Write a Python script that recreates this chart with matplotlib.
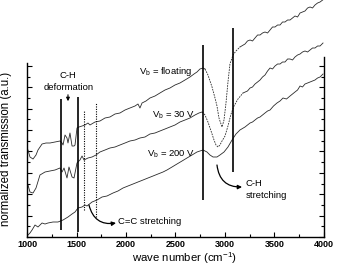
import matplotlib
matplotlib.use("Agg")
import matplotlib.pyplot as plt
import numpy as np

plt.rcParams['font.family'] = ['Liberation Sans', 'DejaVu Sans']
plt.rcParams['mathtext.default'] = 'regular'

# ---- data (wave number in cm^-1, transmission in a.u.) ----
wn_float = [1010, 1030, 1061, 1091, 1111, 1152, 1192, 1232, 1283, 1333, 1354, 1364, 1384, 1404, 1414,
            1434, 1455, 1475, 1485, 1505, 1525, 1556, 1586, 1616, 1636, 1687, 1737, 1788, 1838, 1889,
            1939, 1990, 2040, 2091, 2121, 2141, 2162, 2202, 2242, 2293, 2343, 2394, 2444, 2495, 2545,
            2596, 2646, 2687, 2717, 2747, 2778, 2798]
t_float = [87, 80, 78, 82, 87, 93, 94, 94, 95, 96, 94, 92, 102, 99, 94,
           104, 91, 91, 92, 109, 110, 111, 112, 114, 112, 115, 116, 119, 120, 123,
           124, 127, 129, 131, 133, 129, 134, 136, 139, 141, 144, 147, 149, 152, 154,
           157, 160, 163, 165, 168, 169, 168]
wn_float_dip = [2798, 2828, 2869, 2899, 2919, 2939, 2970, 2990, 3010, 3030, 3050, 3081, 3111, 3151]
t_float_dip = [168, 162, 150, 139, 131, 119, 110, 117, 134, 155, 173, 182, 186, 190]
wn_float_hi = [3151, 3202, 3227, 3253, 3278, 3303, 3329, 3354, 3379, 3404, 3430, 3455, 3480, 3505,
               3531, 3556, 3581, 3606, 3632, 3657, 3682, 3707, 3733, 3758, 3783, 3808, 3834, 3859,
               3884, 3909, 3935, 3960, 4000]
t_float_hi = [190, 193, 196, 197, 196, 199, 202, 202, 204, 205, 204, 207, 210, 210,
              212, 212, 215, 215, 217, 217, 219, 221, 220, 224, 225, 226, 229, 230,
              229, 232, 234, 235, 238]

wn_30 = [1010, 1030, 1061, 1091, 1131, 1182, 1232, 1283, 1333, 1354, 1374, 1404, 1424, 1455, 1475,
         1505, 1535, 1556, 1576, 1616, 1657, 1697, 1737, 1788, 1838, 1889, 1939, 1990, 2040, 2091,
         2141, 2192, 2242, 2293, 2343, 2394, 2444, 2495, 2545, 2596, 2646, 2697, 2737, 2768]
t_30 = [52, 45, 44, 49, 62, 65, 66, 67, 69, 65, 69, 59, 70, 60, 59,
        74, 77, 81, 77, 79, 80, 82, 85, 87, 89, 90, 92, 94, 96, 97,
        99, 100, 103, 104, 106, 108, 110, 112, 115, 117, 119, 122, 124, 125]
wn_30_dip = [2768, 2798, 2828, 2859, 2889, 2909, 2929, 2949, 2970, 3000, 3030, 3061, 3091, 3131, 3182]
t_30_dip = [125, 122, 115, 106, 97, 92, 90, 92, 96, 101, 111, 123, 131, 138, 144]
wn_30_hi = [3182, 3227, 3253, 3278, 3303, 3329, 3354, 3379, 3404, 3430, 3455, 3480, 3505, 3531,
            3556, 3581, 3606, 3632, 3657, 3682, 3707, 3733, 3758, 3783, 3808, 3834, 3859, 3884,
            3909, 3935, 3960, 3990]
t_30_hi = [144, 146, 149, 150, 153, 155, 157, 160, 162, 166, 169, 168, 171, 173,
           173, 175, 175, 178, 178, 177, 180, 182, 183, 185, 186, 185, 187, 189,
           189, 191, 191, 194]

wn_200 = [1010, 1030, 1051, 1081, 1111, 1152, 1182, 1212, 1263, 1313, 1364, 1414, 1455, 1485,
          1515, 1556, 1586, 1606, 1657, 1707, 1758, 1808, 1869, 1919, 1970, 2020, 2071, 2121,
          2172, 2222, 2273, 2323, 2374, 2414, 2465, 2515, 2566, 2616, 2667, 2717, 2747, 2778,
          2818, 2848, 2879, 2919, 2949, 2990, 3030, 3071, 3111, 3151, 3202, 3253, 3278, 3303,
          3329, 3354, 3379, 3404, 3430, 3455, 3490, 3525, 3556, 3586, 3621, 3657, 3682, 3707,
          3733, 3758, 3783, 3808, 3834, 3859, 3884, 3909, 3935, 3960, 3990]
t_200 = [2, 4, 7, 12, 10, 14, 13, 14, 15, 15, 17, 20, 23, 25,
         29, 30, 32, 31, 35, 37, 40, 41, 44, 46, 49, 51, 53, 55,
         57, 59, 61, 63, 65, 67, 70, 73, 76, 79, 82, 85, 86, 87,
         85, 82, 80, 80, 82, 85, 90, 97, 103, 107, 110, 114, 115, 117,
         119, 120, 122, 124, 126, 127, 131, 134, 136, 139, 138, 141, 143, 145,
         147, 151, 150, 153, 154, 155, 156, 157, 159, 160, 163]

solid_bands = [1343, 1515, 2778, 3081]
solid_lo = [7, 5, 37, 65]
solid_hi = [138, 140, 192, 209]
dotted_bands = [1576, 1697]
dotted_lo = [27, 20]
dotted_hi = [127, 134]

xticks_major = [1000, 1500, 2000, 2500, 3000, 3500, 4000]

# ---- figure ----
W, H = 338, 266
fig = plt.figure(figsize=(W / 100, H / 100), dpi=100)
ax = fig.add_axes([27 / W, (H - 237) / H, 297 / W, 237 / H])

lc = '#2a2a2a'
lw = 0.6
ax.plot(wn_float, t_float, color=lc, lw=lw)
ax.plot(wn_float_dip, t_float_dip, color=lc, lw=lw, ls=(0, (2, 1.2)))
ax.plot(wn_float_hi, t_float_hi, color=lc, lw=lw)
ax.plot(wn_30, t_30, color=lc, lw=lw)
ax.plot(wn_30_dip, t_30_dip, color=lc, lw=lw, ls=(0, (2, 1.2)))
ax.plot(wn_30_hi, t_30_hi, color=lc, lw=lw)
ax.plot(wn_200, t_200, color=lc, lw=lw)

ax.vlines(solid_bands, solid_lo, solid_hi, color='black', lw=1.2)
ax.vlines(dotted_bands, dotted_lo, dotted_hi, color='black', lw=0.8, ls=(0, (1, 1.2)))

ax.set_xlim(1000, 4000)
ax.set_ylim(0, 237)

# spines
ax.spines['top'].set_visible(False)
ax.spines['left'].set_bounds(0, 174)
ax.spines['right'].set_bounds(0, 180)
for s in ['left', 'right', 'bottom']:
    ax.spines[s].set_linewidth(1.0)

ax.set_xticks(xticks_major)
ax.set_xticks(np.arange(1250, 4000, 500), minor=True)
ax.tick_params(axis='x', which='both', direction='in', top=False, bottom=True,
               labelsize=6.5, pad=2)
ax.tick_params(axis='x', which='major', length=3.5, width=0.8)
ax.tick_params(axis='x', which='minor', length=2, width=0.8)
for lab in ax.get_xticklabels():
    lab.set_fontweight('bold')

ystep = 10.7
ax.set_yticks(np.arange(0, 17, 2) * ystep)
ax.set_yticks(np.arange(1, 17, 2) * ystep, minor=True)
ax.tick_params(axis='y', which='both', direction='in', left=True, right=True,
               labelleft=False, labelright=False)
ax.tick_params(axis='y', which='major', length=3.5, width=0.8)
ax.tick_params(axis='y', which='minor', length=2, width=0.8)

ax.set_xlabel('wave number (cm$^{-1}$)', fontsize=8.2)
ax.xaxis.set_label_coords(0.53, -0.054)
ax.set_ylabel('normalized transmission (a.u.)', fontsize=8.3)
ax.yaxis.set_label_coords(-0.05, 0.37)

# annotations
tk = dict(color='black', fontsize=6.8)
ax.text(1414, 162, 'C-H', ha='center', va='center', **tk)
ax.text(1424, 150, 'deformation', ha='center', va='center', **tk)
ax.annotate('', xy=(1414, 133), xytext=(1414, 145),
            arrowprops=dict(arrowstyle='-|>', color='black', lw=0.8, mutation_scale=5))

ax.text(2404, 166, 'V$_b$ = floating', ha='center', va='center', **tk)
ax.text(2475, 122, 'V$_b$ = 30 V', ha='center', va='center', **tk)
ax.text(2455, 83, 'V$_b$ = 200 V', ha='center', va='center', **tk)

ax.text(1919, 15, 'C=C stretching', ha='left', va='center', **tk)
ax.annotate('', xy=(1899, 14), xytext=(1626, 32),
            arrowprops=dict(arrowstyle='-|>', color='black', lw=0.9, mutation_scale=6,
                            connectionstyle='arc3,rad=0.45', shrinkA=0, shrinkB=0))

ax.text(3212, 54, 'C-H', ha='left', va='center', **tk)
ax.text(3212, 42, 'stretching', ha='left', va='center', **tk)
ax.annotate('', xy=(3172, 50), xytext=(2919, 72),
            arrowprops=dict(arrowstyle='-|>', color='black', lw=0.9, mutation_scale=6,
                            connectionstyle='arc3,rad=0.45', shrinkA=0, shrinkB=0))

fig.savefig('out.png', dpi=100)
